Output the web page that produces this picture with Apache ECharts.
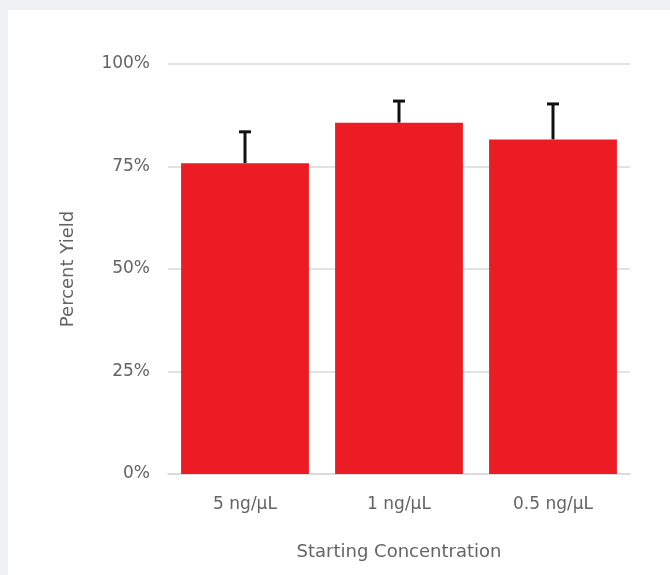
<!DOCTYPE html>
<html>
<head>
<meta charset="utf-8">
<script src="https://cdn.jsdelivr.net/npm/echarts@6/dist/echarts.min.js"></script>
<style>
html,body{margin:0;padding:0;background:#eff0f2;}
#c{width:670px;height:575px;}
</style>
</head>
<body>
<div id="c"></div>
<script>
var categories = ['5 ng/\u00b5L', '1 ng/\u00b5L', '0.5 ng/\u00b5L'];
var yieldValues = [75.8, 85.7, 81.6];
var errorTops = [83.7, 91.2, 90.5];
var yTicks = [0, 25, 50, 75, 100];

var chart = echarts.init(document.getElementById('c'));
var font = '"DejaVu Sans", "Noto Sans", sans-serif';
var txt = '#646464';
chart.setOption({
  backgroundColor: 'transparent',
  animation: false,
  graphic: [{
    type: 'rect', z: -10, silent: true,
    shape: {x: 8, y: 10, width: 662, height: 565},
    style: {fill: '#ffffff'}
  }],
  grid: {left: 168, right: 40, top: 64, bottom: 101},
  xAxis: {
    type: 'category',
    data: categories,
    name: 'Starting Concentration',
    nameLocation: 'middle',
    nameGap: 69,
    nameTextStyle: {color: txt, fontSize: 18, fontFamily: font},
    axisLine: {lineStyle: {color: '#d9d9d9', width: 1.5}},
    axisTick: {show: false},
    axisLabel: {color: txt, fontSize: 17, fontFamily: font, margin: 22}
  },
  yAxis: {
    type: 'value',
    min: 0, max: 100, interval: 25,
    name: 'Percent Yield',
    nameLocation: 'middle',
    nameGap: 91,
    nameTextStyle: {color: txt, fontSize: 18, fontFamily: font},
    axisLine: {show: false},
    axisTick: {show: false},
    splitLine: {lineStyle: {color: '#d9d9d9', width: 1.5}},
    axisLabel: {
      color: txt, fontSize: 17, fontFamily: font, margin: 18,
      formatter: function (v) { return yTicks.indexOf(v) >= 0 ? v + '%' : ''; }
    }
  },
  series: [{
    type: 'bar',
    data: yieldValues,
    barCategoryGap: '17%',
    itemStyle: {color: '#ec1c24'},
    z: 3
  }, {
    type: 'custom',
    z: 2,
    data: errorTops.map(function (t, i) { return [i, yieldValues[i], t]; }),
    renderItem: function (params, api) {
      var base = api.coord([api.value(0), api.value(1)]);
      var top = api.coord([api.value(0), api.value(2)]);
      var hw = 6;
      return {
        type: 'group',
        children: [{
          type: 'line',
          shape: {x1: base[0], y1: base[1], x2: top[0], y2: top[1]},
          style: {stroke: '#111', lineWidth: 3}
        }, {
          type: 'line',
          shape: {x1: top[0] - hw, y1: top[1] + 1, x2: top[0] + hw, y2: top[1] + 1},
          style: {stroke: '#111', lineWidth: 3}
        }]
      };
    }
  }]
});
</script>
</body>
</html>
